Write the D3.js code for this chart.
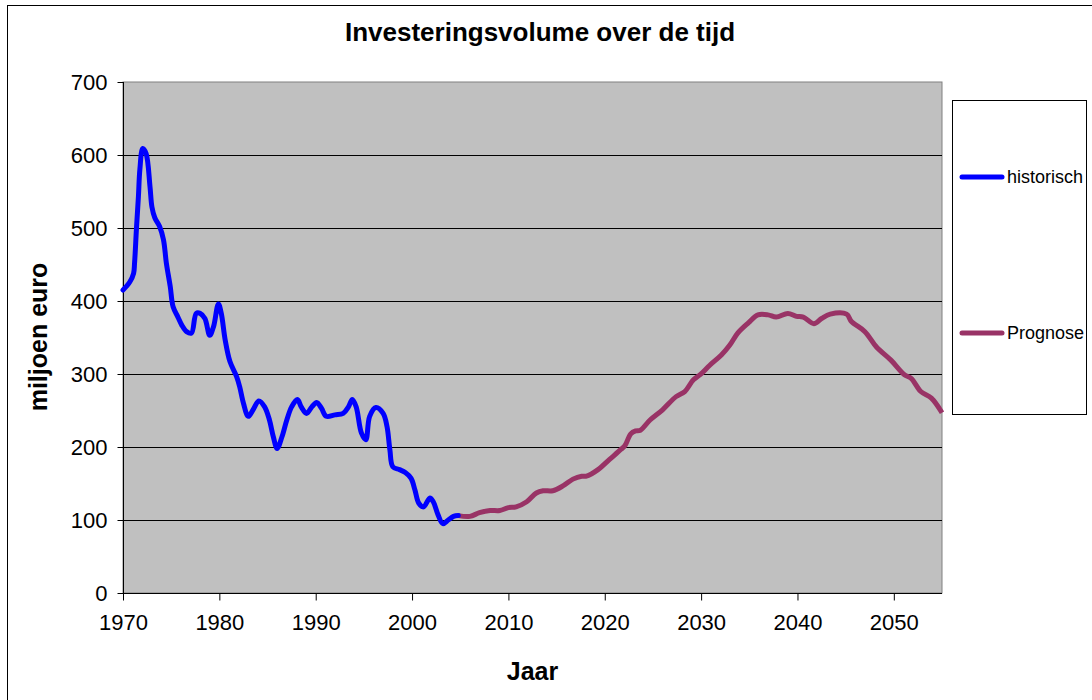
<!DOCTYPE html>
<html>
<head>
<meta charset="utf-8">
<script src="https://cdn.jsdelivr.net/npm/d3@7"></script>
<style>
  body { margin: 0; background: #fff; }
  svg { display: block; font-family: Arial, "Liberation Sans", sans-serif; }
</style>
</head>
<body>
<svg id="chart" width="1092" height="700"></svg>
<script>
// historical series (year, miljoen euro)
var histYears = [1970.0, 1970.7, 1971.1, 1971.2, 1971.4, 1971.6, 1971.75, 1972.05, 1972.4, 1972.8,
  1973.0, 1973.3, 1973.8, 1974.2, 1974.5, 1974.9, 1975.2, 1975.7, 1976.1, 1976.6,
  1977.1, 1977.6, 1978.0, 1978.5, 1979.0, 1979.4, 1979.9, 1980.2, 1980.6, 1981.1,
  1981.8, 1982.1, 1982.5, 1983.0, 1983.5, 1984.1, 1984.7, 1985.2, 1985.6, 1986.0,
  1986.5, 1987.0, 1987.5, 1988.1, 1988.5, 1989.05, 1989.6, 1990.1, 1990.6, 1991.1,
  1992.0, 1992.85, 1993.4, 1993.8, 1994.2, 1994.75, 1995.2, 1995.6, 1996.25, 1997.0,
  1997.4, 1997.7, 1998.0, 1998.7, 1999.3, 1999.9, 2000.3, 2000.7, 2001.2, 2001.85,
  2002.2, 2002.7, 2003.2, 2003.75, 2004.3, 2004.8];
var histValues = [415, 426, 438, 452, 500, 543, 580, 609, 602, 557,
  529, 514, 502, 484, 452, 420, 392, 378, 367, 358,
  356, 383, 383, 376, 353, 365, 396, 383, 347, 317,
  296, 283, 260, 242, 251, 263, 255, 237, 214, 198,
  214, 237, 255, 265, 255, 246, 255, 261, 253, 242,
  244, 246, 255, 265, 255, 219, 210, 242, 254, 246,
  228, 196, 173, 169, 165, 157, 141, 123, 118, 130,
  125, 107, 95, 100, 105, 106];

// forecast series
var progYears = [2004.8, 2006.0, 2007.0, 2008.1, 2009.1, 2010.0, 2010.8, 2011.9, 2012.9, 2013.6,
  2014.6, 2015.7, 2016.7, 2017.6, 2018.1, 2019.3, 2020.5, 2021.7, 2022.1, 2022.7,
  2023.2, 2023.7, 2024.7, 2026.0, 2027.4, 2028.3, 2029.2, 2029.9, 2030.9, 2032.1,
  2033.0, 2033.8, 2034.9, 2035.9, 2036.95, 2037.8, 2039.0, 2039.9, 2040.6, 2041.7,
  2042.5, 2043.4, 2045.1, 2045.6, 2047.0, 2048.2, 2049.7, 2051.1, 2051.8, 2052.8,
  2053.9, 2055.0];
var progValues = [106, 105, 110, 113, 113, 117, 118, 125, 137, 140,
  140, 147, 156, 160, 160, 169, 183, 197, 202, 218,
  222, 223, 237, 251, 269, 276, 292, 299, 312, 326,
  340, 356, 370, 381, 381, 378, 383, 379, 378, 369,
  376, 382, 382, 372, 358, 337, 319, 299, 294, 276,
  267, 247];

var xTicks = [1970, 1980, 1990, 2000, 2010, 2020, 2030, 2040, 2050];
var yTicks = [0, 100, 200, 300, 400, 500, 600, 700];
var seriesNames = ['historisch', 'Prognose'];
var seriesColors = ['#0000ff', '#993366'];

(function () {
  var svg = d3.select('#chart');
  var pLeft = 123, pRight = 942, pTop = 82, pBottom = 593;

  var x = d3.scaleLinear().domain([1970, 2055]).range([pLeft, pRight]);
  var y = d3.scaleLinear().domain([0, 700]).range([pBottom, pTop]);

  // chart area border
  svg.append('rect')
    .attr('x', 7.5).attr('y', 5.5)
    .attr('width', 1200).attr('height', 800)
    .attr('fill', '#fff').attr('stroke', '#000');

  // plot area
  svg.append('rect')
    .attr('x', pLeft).attr('y', pTop)
    .attr('width', pRight - pLeft).attr('height', pBottom - pTop)
    .attr('fill', '#c0c0c0').attr('stroke', '#808080');

  // gridlines
  svg.append('g').selectAll('line')
    .data(yTicks.filter(function (d) { return d > 0 && d < 700; }))
    .enter().append('line')
    .attr('x1', pLeft).attr('x2', pRight)
    .attr('y1', function (d) { return Math.round(y(d)) + 0.5; })
    .attr('y2', function (d) { return Math.round(y(d)) + 0.5; })
    .attr('stroke', '#000').attr('stroke-width', 1);

  // axes
  var yAxis = svg.append('g')
    .attr('transform', 'translate(' + (pLeft + 0.5) + ',0)')
    .call(d3.axisLeft(y).tickValues(yTicks).tickSize(6).tickPadding(10).tickFormat(d3.format('d')));
  var xAxis = svg.append('g')
    .attr('transform', 'translate(0,' + (pBottom + 0.5) + ')')
    .call(d3.axisBottom(x).tickValues(xTicks).tickSize(7).tickPadding(14).tickFormat(d3.format('d')));

  [xAxis, yAxis].forEach(function (ax) {
    ax.select('.domain').attr('stroke', '#000');
    ax.selectAll('.tick line').attr('stroke', '#000');
    ax.selectAll('.tick text')
      .attr('fill', '#000')
      .style('font-family', 'Arial, "Liberation Sans", sans-serif')
      .style('font-size', '22px');
  });
  xAxis.select('.domain').attr('d', 'M' + pLeft + ',0H' + pRight);
  yAxis.select('.domain').attr('d', 'M0,' + pBottom + 'V' + pTop);

  // lines
  var line = d3.line()
    .x(function (d) { return x(d[0]); })
    .y(function (d) { return y(d[1]); })
    .curve(d3.curveCatmullRom.alpha(0.5));

  var histData = d3.zip(histYears, histValues);
  var progData = d3.zip(progYears, progValues);

  svg.append('path')
    .datum(progData)
    .attr('d', line)
    .attr('fill', 'none')
    .attr('stroke', seriesColors[1])
    .attr('stroke-width', 5)
    .attr('stroke-linejoin', 'round');

  svg.append('path')
    .datum(histData)
    .attr('d', line)
    .attr('fill', 'none')
    .attr('stroke', seriesColors[0])
    .attr('stroke-width', 5)
    .attr('stroke-linejoin', 'round')
    .attr('stroke-linecap', 'round');

  // title
  svg.append('text')
    .attr('x', 540).attr('y', 41)
    .attr('text-anchor', 'middle')
    .style('font-size', '26px').style('font-weight', 'bold')
    .text('Investeringsvolume over de tijd');

  // axis titles
  svg.append('text')
    .attr('x', (pLeft + pRight) / 2).attr('y', 680)
    .attr('text-anchor', 'middle')
    .style('font-size', '25px').style('font-weight', 'bold')
    .text('Jaar');

  svg.append('text')
    .attr('transform', 'translate(47,337) rotate(-90)')
    .attr('text-anchor', 'middle')
    .style('font-size', '25px').style('font-weight', 'bold')
    .text('miljoen euro');

  // legend
  var legend = svg.append('g');
  legend.append('rect')
    .attr('x', 952.5).attr('y', 100.5)
    .attr('width', 134).attr('height', 314)
    .attr('fill', '#fff').attr('stroke', '#000');

  var legendY = [177, 333];
  var item = legend.selectAll('g.item')
    .data(seriesNames)
    .enter().append('g')
    .attr('class', 'item')
    .attr('transform', function (d, i) { return 'translate(0,' + legendY[i] + ')'; });

  item.append('line')
    .attr('x1', 962).attr('x2', 1002)
    .attr('stroke', function (d, i) { return seriesColors[i]; })
    .attr('stroke-width', 5)
    .attr('stroke-linecap', 'round');

  item.append('text')
    .attr('x', 1007).attr('y', 6)
    .style('font-size', '18px')
    .text(function (d) { return d; });
})();
</script>
</body>
</html>
